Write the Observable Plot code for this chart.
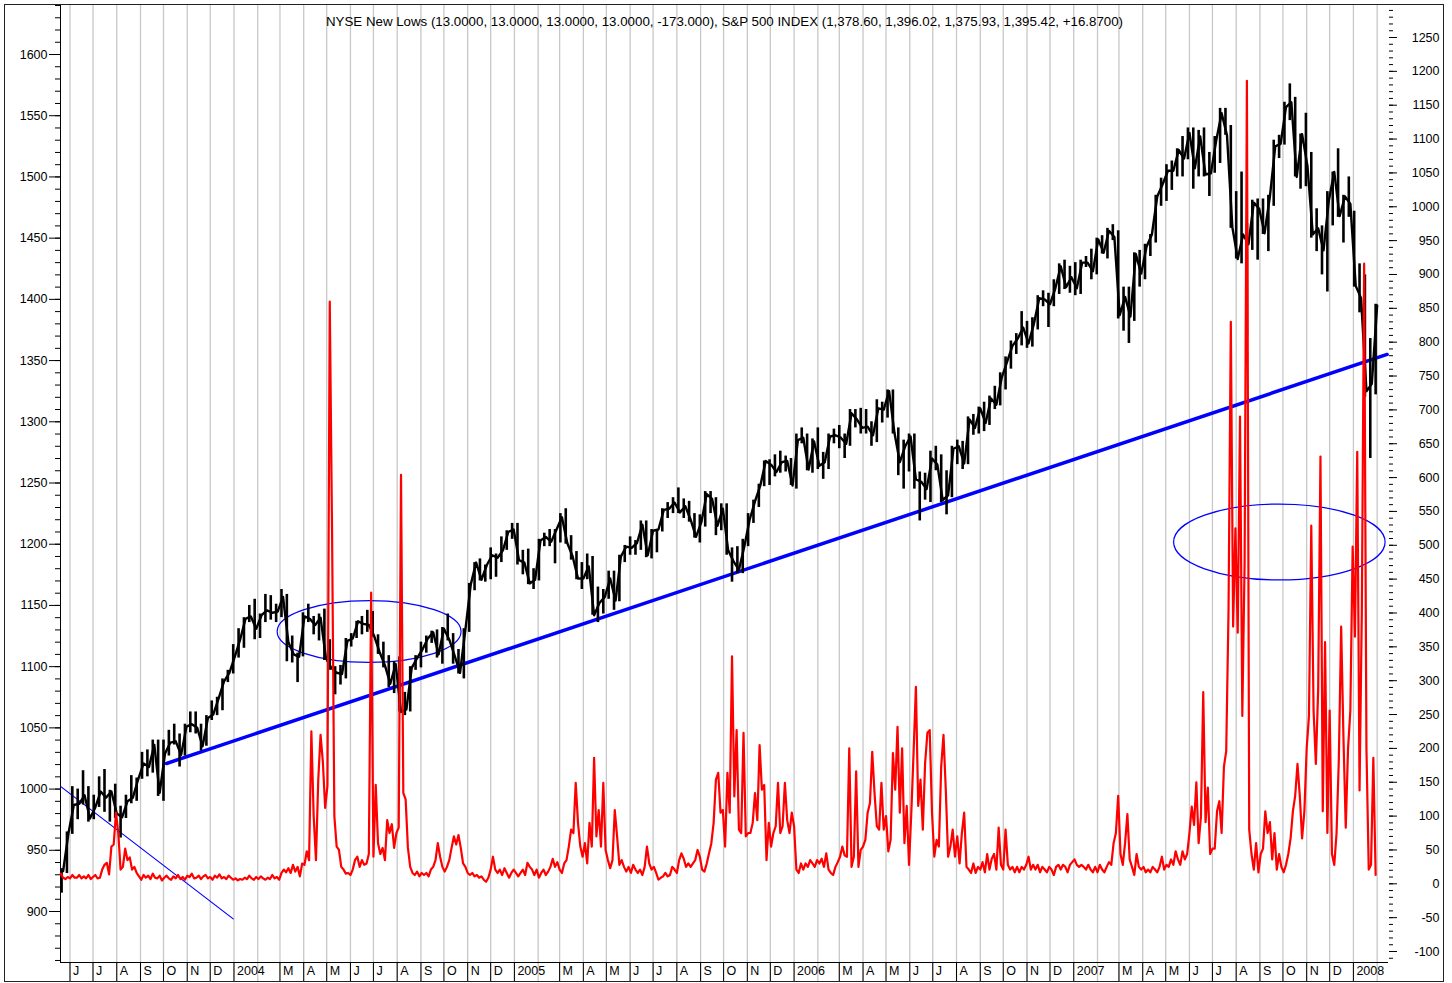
<!DOCTYPE html>
<html><head><meta charset="utf-8">
<script src="https://cdn.jsdelivr.net/npm/d3@7"></script>
<script src="https://cdn.jsdelivr.net/npm/@observablehq/plot@0.6"></script>
<style>
body{margin:0;background:#fff;}
#wrap{position:relative;width:1452px;height:983px;overflow:hidden;}
#wrap svg{display:block;}
#border{position:absolute;left:4px;top:4px;width:1438px;height:976px;border:1px solid #222;pointer-events:none;}
</style></head><body><div id="wrap"></div>
<script>
// ---------- DATA ----------
const titleText = "NYSE New Lows (13.0000, 13.0000, 13.0000, 13.0000, -173.000), S&P 500 INDEX (1,378.60, 1,396.02, 1,375.93, 1,395.42, +16.8700)";
const monthLetters = ["J","F","M","A","M","J","J","A","S","O","N","D"];
const spTicks = [900,950,1000,1050,1100,1150,1200,1250,1300,1350,1400,1450,1500,1550,1600];
const nlTicks = [-100,-50,0,50,100,150,200,250,300,350,400,450,500,550,600,650,700,750,800,850,900,950,1000,1050,1100,1150,1200,1250];

// S&P 500 weekly bars (week ending Friday), first week ending 2003-05-23
const spFirstWeek = "2003-05-23";
const spClose = [
933,964,987,988,995,976,985,998,993,998,980,977,990,993,1008,1021,1018,1036,997,1029,1038,1039,1028,1051,1053,1050,1035,1058,1061,1074,1088,1095,
1108,1122,1139,1141,1131,1142,1146,1144,1145,1157,1120,1110,1108,1141,1139,1134,1140,1107,1099,1095,1094,1121,1123,1137,1135,1134,1125,1112,1101,1086,1102,1063,1065,1099,1107,1114,1123,1128,1110,1131,1122,1109,1095,1130,1167,1185,1171,1183,1191,1189,1195,1210,1212,
1187,1185,1168,1171,1203,1206,1202,1212,1222,1201,1190,1172,1172,1182,1142,1152,1157,1172,1154,1190,1198,1197,1201,1216,1191,1211,1212,1228,1229,1234,1226,1231,1220,1206,1218,1241,1237,1215,1229,1195,1186,1179,1198,1220,1235,1248,1268,1265,1259,1267,1268,1248,
1285,1287,1261,1284,1264,1267,1288,1289,1287,1282,1307,1302,1295,1296,1289,1311,1310,1325,1291,1267,1280,1288,1253,1251,1245,1270,1265,1236,1240,1278,1280,1266,1302,1295,1311,1299,1319,1314,1336,1349,1362,1368,1377,1364,1380,1401,1400,1396,1409,1427,1410,1418,
1409,1430,1430,1423,1449,1438,1456,1451,1387,1402,1386,1437,1421,1443,1453,1484,1494,1505,1505,1522,1515,1536,1507,1533,1502,1503,1530,1552,1534,1459,1433,1453,1445,1479,1474,1454,1484,1525,1527,1557,1561,1500,1535,1509,1453,1458,1440,1481,1504,1468,1484,1478,
1411,1401,1325,1331,1395];
const spLow = [
915,931,963,975,987,973,975,985,981,973,976,960,976,988,990,1008,1010,1013,994,990,1027,1036,1018,1027,1046,1045,1031,1035,1056,1060,1064,1087,
1094,1107,1115,1136,1122,1123,1136,1138,1136,1140,1104,1103,1087,1108,1136,1126,1121,1105,1097,1077,1085,1090,1116,1123,1126,1128,1124,1110,1099,1083,1078,1063,1060,1063,1097,1099,1111,1119,1107,1102,1121,1102,1094,1090,1128,1162,1170,1169,1171,1173,1185,1195,1204,
1183,1175,1167,1163,1170,1198,1198,1184,1201,1200,1187,1171,1163,1171,1142,1136,1143,1155,1146,1153,1185,1191,1191,1195,1189,1188,1193,1210,1221,1225,1225,1221,1218,1205,1201,1214,1225,1207,1211,1191,1169,1176,1176,1198,1217,1230,1247,1248,1255,1258,1259,1248,
1245,1282,1260,1258,1261,1253,1261,1282,1278,1270,1280,1295,1290,1290,1280,1283,1299,1303,1290,1256,1245,1259,1245,1219,1236,1234,1260,1234,1224,1238,1265,1261,1265,1289,1290,1292,1297,1310,1313,1326,1343,1355,1362,1360,1361,1375,1394,1377,1394,1404,1408,1405,
1403,1404,1426,1416,1420,1437,1433,1448,1384,1374,1364,1382,1410,1416,1435,1446,1476,1480,1489,1500,1500,1514,1490,1500,1500,1484,1503,1511,1534,1458,1433,1429,1370,1440,1432,1453,1439,1476,1515,1526,1546,1500,1490,1492,1450,1439,1420,1406,1460,1467,1446,1467,
1410,1389,1320,1270,1322];
const spHigh = [
935,965,1002,1000,1015,1002,995,1010,1016,999,1004,986,995,1011,1009,1030,1032,1040,1040,1040,1048,1053,1045,1053,1063,1063,1053,1060,1072,1075,1090,1097,
1118,1131,1140,1150,1155,1143,1159,1158,1151,1163,1159,1125,1111,1144,1151,1141,1143,1147,1122,1100,1101,1123,1127,1137,1141,1146,1145,1126,1120,1109,1104,1108,1079,1100,1109,1120,1125,1129,1130,1132,1143,1127,1114,1131,1168,1185,1188,1183,1197,1192,1206,1211,1217,
1217,1195,1196,1180,1204,1209,1212,1212,1225,1229,1207,1194,1185,1192,1190,1165,1163,1178,1178,1191,1199,1206,1203,1219,1219,1212,1212,1229,1234,1238,1246,1237,1235,1225,1224,1243,1243,1238,1233,1233,1197,1198,1204,1225,1236,1249,1268,1269,1273,1276,1272,1270,
1290,1295,1290,1286,1295,1275,1290,1294,1297,1290,1310,1310,1311,1310,1300,1318,1316,1326,1326,1295,1285,1290,1290,1259,1258,1276,1280,1273,1260,1280,1285,1284,1304,1306,1312,1316,1321,1329,1340,1353,1366,1372,1390,1382,1385,1403,1407,1405,1416,1429,1432,1427,
1430,1432,1435,1441,1450,1452,1458,1461,1456,1410,1410,1438,1440,1445,1453,1485,1499,1510,1513,1523,1533,1540,1540,1538,1540,1520,1533,1556,1556,1542,1488,1504,1462,1481,1482,1482,1485,1530,1534,1561,1576,1565,1535,1552,1520,1474,1460,1488,1504,1523,1485,1500,
1472,1429,1420,1368,1396];

// NYSE New Lows, one reading every 3 calendar days from 2003-05-20
const nlFirstDay = "2003-05-20";
const nlValues = [
15,9,7,10,8,13,9,9,13,8, 11,8,13,7,10,13,8,9,21,28, 31,14,55,58,105,75,21,25,52,35, 39,21,25,16,11,6,13,9,12,7,
15,9,8,12,5,9,12,8,6,11, 8,13,7,10,6,12,10,15,8,9, 12,7,11,13,8,10,6,12,9,14, 8,10,7,12,9,6,8,5,7,6,
9,7,12,8,6,10,7,11,8,6, 9,7,13,8,10,6,16,21,17,23, 16,28,18,25,11,30,28,48,35,225, 100,35,154,220,180,112,145,860,520,100,
55,50,25,21,15,16,13,21,35,40, 25,35,28,30,44,430,40,146,60,44, 53,35,94,75,88,53,75,83,604,134, 125,53,25,16,13,18,11,16,13,16,
11,21,25,35,60,40,25,18,25,35, 53,70,58,72,53,30,25,16,13,16, 11,13,9,11,6,3,9,21,40,21, 16,21,13,23,16,9,16,21,16,11,
16,21,13,31,25,21,13,21,9,16, 21,13,18,25,37,25,32,21,16,30, 35,55,80,75,149,90,55,40,60,30, 90,55,186,70,109,55,149,50,35,23,
35,109,70,28,35,25,18,25,16,28, 21,16,21,13,25,55,30,21,25,16, 6,9,11,16,11,13,25,21,16,35, 45,37,25,30,25,30,35,50,40,21,
18,30,45,60,90,154,164,105,109,55, 164,105,336,129,227,80,75,223,70,75, 75,90,134,94,205,139,146,35,90,55, 75,85,149,75,85,149,94,75,105,85,
21,16,30,21,30,25,35,30,25,35, 30,37,25,45,21,16,13,25,32,40, 55,42,40,200,25,40,166,25,50,55, 65,105,119,195,134,85,80,149,80,100,
48,65,193,139,232,105,200,60,115,28, 105,195,291,115,154,80,178,223,227,105, 40,65,55,173,220,139,40,55,80,40, 70,30,75,105,25,21,16,30,16,25,
21,32,17,44,21,37,44,21,83,28, 21,80,28,21,25,17,25,17,25,21, 28,40,21,28,21,28,17,25,21,17, 25,21,13,25,28,21,28,25,17,28,
32,36,28,25,28,25,21,28,21,17, 25,17,28,21,17,25,32,28,60,75, 130,44,28,60,103,36,25,13,44,25, 21,25,17,21,17,25,21,17,25,40,
21,28,25,36,28,48,36,28,48,36, 44,75,114,87,150,60,99,283,91,142, 44,52,52,107,122,75,173,196,404,830, 380,525,371,690,248,475,1186,80,44,21,
60,17,44,52,107,75,91,36,75,21, 44,25,17,28,44,67,107,130,177,130, 67,107,200,248,529,256,177,287,631,107, 357,75,256,44,28,75,185,380,216,83,
200,256,498,365,638,138,404,916,200,21, 28,186,13];

// Annotations drawn on the chart (in data units)
const trendMain = [{date: "2003-10-05", value: 1020.9}, {date: "2008-02-14", value: 1355}];
const trendThin = [{date: "2003-05-20", value: 1002}, {date: "2003-12-31", value: 894}];
const ellipses = [
  {date: "2004-06-26", value: 1128.3, rxDays: 120, ryValue: 25.2},
  {date: "2007-09-27", value: 1201.4, rxDays: 138, ryValue: 31}
];

// ---------- BUILD ----------
const parse = d3.utcParse("%Y-%m-%d");
const DAY = 864e5;
// right axis (New Lows) aligned to the left (S&P) axis
const nlToSp = v => 922.63 + 0.553 * v;
const spToNl = v => (v - 922.63) / 0.553;

const xDomain = [new Date(Date.UTC(2003, 4, 19, 14)), new Date(Date.UTC(2008, 1, 15, 19))];
const yDomain = [858.35, 1640.84];
const yBand = 842.83; // bottom of the month-label band

const spStart = parse(spFirstWeek);
const sp = spClose.map((c, i) => ({
  date: new Date(+spStart + 7 * i * DAY),
  mid: new Date(+spStart + (7 * i - 2) * DAY),
  low: spLow[i], high: spHigh[i], close: c
}));
const nlStart = parse(nlFirstDay);
const nl = nlValues.map((v, i) => ({date: new Date(+nlStart + 3 * i * DAY), v: nlToSp(v)}));

const months = d3.utcMonth.range(new Date(Date.UTC(2003, 5, 1)), new Date(Date.UTC(2008, 1, 2)));
const labeled = months.filter(m => m.getUTCMonth() !== 1);
const monthLabel = m => m.getUTCMonth() === 0 ? String(m.getUTCFullYear()) : monthLetters[m.getUTCMonth()];

const spMinor = d3.range(860, 1641, 10);
const nlMinor = d3.range(-110, 1291, 10);

function ellipseMark(index, scales) {
  const g = d3.create("svg:g");
  for (const e of ellipses) {
    const c = parse(e.date);
    const cx = scales.x(c), cy = scales.y(e.value);
    const rx = scales.x(new Date(+c + e.rxDays * DAY)) - cx;
    const ry = scales.y(e.value - e.ryValue) - cy;
    g.append("ellipse").attr("cx", cx).attr("cy", cy).attr("rx", rx).attr("ry", ry)
      .attr("fill", "none").attr("stroke", "#0000ff").attr("stroke-width", 1.2);
  }
  return g.node();
}

const chart = Plot.plot({
  width: 1452, height: 983,
  marginLeft: 60, marginRight: 64, marginTop: 4, marginBottom: 21,
  x: {type: "utc", domain: xDomain, axis: null},
  y: {domain: yDomain},
  style: {fontFamily: "'Liberation Sans', Arial, Helvetica, sans-serif", fontSize: "12.5px", color: "#000", background: "#fff"},
  marks: [
    Plot.ruleX(months, {x: d => d, y1: yBand, y2: yDomain[1], stroke: "#c8c8c8", strokeWidth: 1.3}),
    Plot.ruleX(labeled, {x: d => d, y1: yBand, y2: yDomain[0], stroke: "#000", strokeWidth: 1}),
    Plot.text(labeled, {x: d => d, y: yDomain[0] - 4 / 1.2243, text: monthLabel, textAnchor: "start", lineAnchor: "top", dx: 3, fontSize: 12.5, fill: "#000"}),
    Plot.axisY(spMinor, {anchor: "left", tickSize: 5, fill: "none", label: null}),
    Plot.axisY(spTicks, {anchor: "left", tickSize: 11, tickPadding: 2, tickFormat: v => String(v), label: null}),
    Plot.axisY(nlMinor.map(nlToSp), {anchor: "right", tickSize: 4, fill: "none", label: null}),
    Plot.axisY(nlTicks.map(nlToSp), {anchor: "right", tickSize: 8, tickPadding: 43, textAnchor: "end", tickFormat: v => String(Math.round(spToNl(v))), label: null}),
    Plot.ruleX([xDomain[0]], {x: d => d, y1: yDomain[0], y2: yDomain[1], stroke: "#000"}),
    Plot.ruleY([yDomain[0]], {y: d => d, stroke: "#000"}),
    Plot.line(trendThin, {x: d => parse(d.date), y: "value", stroke: "#0000ff", strokeWidth: 1.2}),
    Plot.line(trendMain, {x: d => parse(d.date), y: "value", stroke: "#0000ff", strokeWidth: 3.5}),
    ellipseMark,
    Plot.ruleX(sp, {x: "mid", y1: "low", y2: "high", stroke: "#000", strokeWidth: 2.6}),
    Plot.line(sp, {x: "date", y: "close", stroke: "#000", strokeWidth: 2.4}),
    Plot.line(nl, {x: "date", y: "v", stroke: "#ff0000", strokeWidth: 2.2}),
    Plot.text([titleText], {text: d => d, frameAnchor: "top", dy: 12, fontSize: 13.3, fill: "#000"})
  ]
});
const wrap = document.getElementById("wrap");
wrap.appendChild(chart);
const border = document.createElement("div");
border.id = "border";
wrap.appendChild(border);
</script></body></html>
